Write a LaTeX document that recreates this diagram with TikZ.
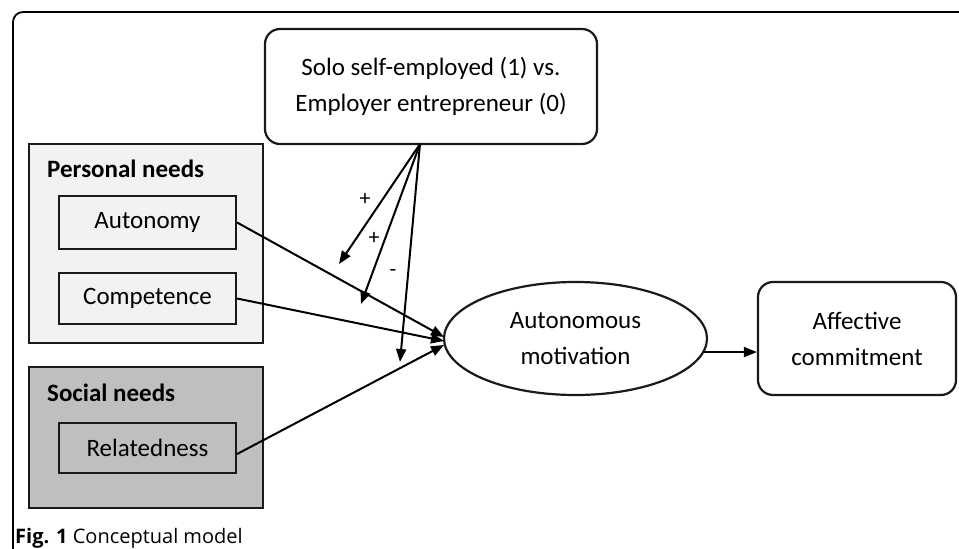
\documentclass[tikz,border=0pt]{standalone}
\usepackage{fontspec}
\setmainfont{Carlito}
\newfontfamily\capfont{Open Sans}
\usetikzlibrary{arrows.meta,shapes.geometric}
\definecolor{pfill}{HTML}{F2F2F2}
\definecolor{sfill}{HTML}{BFBFBF}
\definecolor{edge}{HTML}{1A1A1A}
\begin{document}
\begin{tikzpicture}[x=1pt,y=-1pt,
  txt/.style={font=\fontsize{25}{36}\selectfont, align=center},
  inbox/.style={draw=edge, line width=2.2pt, minimum width=177pt, inner sep=0pt, txt},
  grp/.style={draw=edge, line width=2.2pt, minimum width=234pt, inner sep=0pt},
  rbox/.style={draw=edge, line width=2.2pt, rounded corners=15pt, inner sep=0pt, txt},
  arr/.style={line width=2pt, -{Triangle[length=13pt,width=10pt]}},
  sign/.style={font=\fontsize{22}{22}\selectfont, inner sep=0pt},
  head/.style={font=\bfseries\fontsize{25}{30}\selectfont, anchor=base west, inner sep=0pt}]
\clip (0,0) rectangle (959,549);
\fill[white] (0,0) rectangle (959,549);
\draw[line width=1.8pt, rounded corners=10pt] (13,570) -- (13,12) -- (985,12);

\node[rbox, minimum width=332pt, minimum height=115pt] (mod) at (431,86.5) {Solo self-employed (1) vs.\\Employer entrepreneur (0)};

\node[grp, fill=pfill, minimum height=199pt] (pers) at (146,243.5) {};
\node[grp, fill=sfill, minimum height=141pt] (soc) at (146,437.5) {};
\node[head] (pl) at (47,177) {Personal needs};
\node[head] (sl) at (47,401) {Social needs};

\node[inbox, minimum height=53pt] (auto) at (147.5,222.5) {Autonomy};
\node[inbox, minimum height=51pt] (comp) at (147.5,298.5) {Competence};
\node[inbox, minimum height=50pt] (rel) at (147.5,448) {Relatedness};

\node[draw=edge, ellipse, line width=2.2pt, minimum width=263pt, minimum height=113pt, inner sep=0pt, txt] (mot) at (575.5,338.5) {Autonomous\\motivation};
\node[rbox, minimum width=198pt, minimum height=113pt] (aff) at (857,338.5) {Affective\\commitment};

\coordinate (src) at (420,144);
\coordinate (m1) at (339,264);
\coordinate (m2) at (361,304);
\coordinate (m3) at (400,362);
\draw[arr] (src) -- (m1);
\draw[arr] (src) -- (m2);
\draw[arr] (src) -- (m3);
\node[sign] (s1) at (365,199) {+};
\node[sign] (s2) at (374,238) {+};
\node[sign] (s3) at (393,273) {-};

\coordinate (t1) at (444,337);
\coordinate (t2) at (444,341);
\coordinate (t3) at (444,345);
\draw[arr] (auto.east) -- (t1);
\draw[arr] (comp.east) -- (t2);
\draw[arr] ([yshift=-6pt]rel.east) -- (t3);

\draw[arr] (mot.-6) -- (mot.-6 -| aff.west);

\node[anchor=base west, inner sep=0pt, font=\capfont\fontsize{20}{24}\selectfont] (cap) at (15,543) {\textbf{Fig. 1} Conceptual model};
\end{tikzpicture}
\end{document}
